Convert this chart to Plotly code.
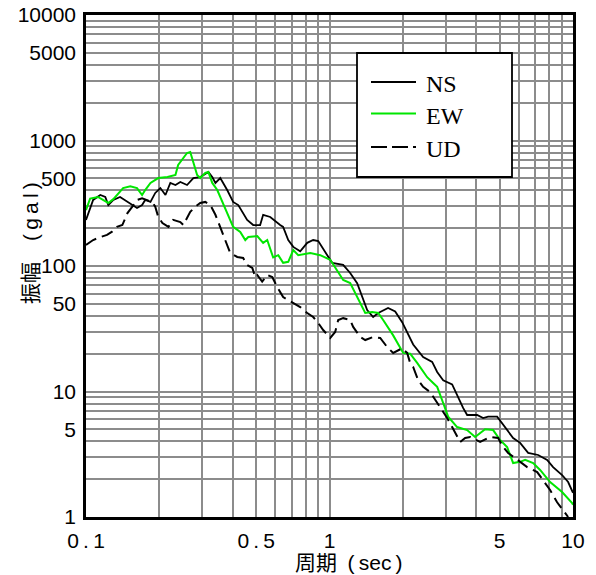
import plotly.graph_objects as go

# ---- data (period [sec], amplitude [gal]) ----
ns_period = [0.1, 0.107, 0.1145, 0.12, 0.1235, 0.1295, 0.138, 0.148, 0.155, 0.162, 0.170, 0.175, 0.184,
             0.1925, 0.202, 0.212, 0.222, 0.233, 0.244, 0.26, 0.276, 0.2945, 0.318, 0.33, 0.34, 0.356,
             0.38, 0.402, 0.422, 0.459, 0.486, 0.519, 0.534, 0.571, 0.627, 0.645, 0.677, 0.71, 0.758,
             0.81, 0.857, 0.899, 0.979, 1.026, 1.138, 1.216, 1.299, 1.375, 1.428, 1.511, 1.585, 1.74,
             1.861, 1.988, 2.084, 2.206, 2.424, 2.64, 2.768, 2.93, 3.189, 3.375, 3.538, 3.675, 4.039,
             4.274, 4.481, 4.88, 5.264, 5.677, 6.066, 6.543, 7.193, 7.83, 8.285, 9.02, 9.55, 9.92, 10.0]
ns_amp = [233, 336, 368, 355, 306, 336, 355, 324, 306, 290, 306, 336, 324,
          382, 418, 368, 459, 442, 467, 442, 502, 511, 561, 511, 459, 502,
          403, 324, 306, 233, 212, 212, 256, 246, 212, 205, 161, 142, 131,
          153, 161, 158, 122, 106, 102, 88, 73, 53.6, 44.6, 39.2, 42.2, 46.3,
          43.4, 35.7, 29.3, 23.7, 18.8, 17.2, 14.3, 12.3, 11.4, 8.9, 7.4, 6.5, 6.5,
          6.15, 6.3, 6.3, 5.21, 4.26, 3.9, 3.24, 3.12, 2.85, 2.5, 2.16, 1.9, 1.64, 1.56]

ew_period = [0.1, 0.104, 0.112, 0.118, 0.1235, 0.1295, 0.136, 0.142, 0.152, 0.162, 0.170, 0.175, 0.184,
             0.198, 0.216, 0.233, 0.239, 0.251, 0.26, 0.268, 0.276, 0.286, 0.2945, 0.309, 0.318, 0.33,
             0.346, 0.363, 0.38, 0.402, 0.43, 0.451, 0.464, 0.505, 0.534, 0.555, 0.587, 0.616, 0.645,
             0.677, 0.71, 0.744, 0.834, 0.916, 1.007, 1.075, 1.138, 1.216, 1.299, 1.402, 1.497, 1.585,
             1.661, 1.826, 2.007, 2.144, 2.291, 2.518, 2.665, 2.768, 2.93, 3.071, 3.343, 3.675, 3.963,
             4.355, 4.699, 5.019, 5.364, 5.677, 6.066, 6.36, 6.861, 7.328, 8.054, 9.02, 9.92, 10.0]
ew_amp = [279, 345, 355, 336, 318, 341, 382, 418, 432, 418, 368, 403, 459,
          502, 511, 531, 638, 725, 795, 810, 662, 531, 502, 551, 561, 459,
          403, 324, 264, 205, 187, 161, 170, 173, 153, 161, 117, 122, 106,
          108, 134, 122, 127, 122, 112, 92.9, 77.3, 73.2, 56.6, 42.2, 43, 42.2,
          37.1, 28, 20.3, 20, 16.9, 13, 11.7, 10.9, 8.1, 6.3, 5.21, 4.93, 4.34,
          5.0, 4.93, 4.11, 3.61, 2.69, 2.75, 2.85, 2.69, 2.37, 1.9, 1.58, 1.29, 1.25]

ud_period = [0.1, 0.107, 0.1145, 0.122, 0.128, 0.134, 0.141, 0.148, 0.155, 0.162, 0.170, 0.1785, 0.187,
             0.1925, 0.198, 0.206, 0.218, 0.228, 0.244, 0.251, 0.268, 0.281, 0.2945, 0.309, 0.324, 0.34,
             0.356, 0.373, 0.391, 0.418, 0.442, 0.459, 0.482, 0.4955, 0.505, 0.529, 0.555, 0.582, 0.61,
             0.645, 0.71, 0.758, 0.81, 0.857, 0.899, 0.942, 1.007, 1.055, 1.086, 1.138, 1.216, 1.251,
             1.337, 1.402, 1.511, 1.615, 1.725, 1.826, 1.988, 2.084, 2.144, 2.206, 2.313, 2.424, 2.591,
             2.716, 2.902, 3.042, 3.189, 3.44, 3.606, 3.781, 4.155, 4.567, 4.926, 5.166, 5.415, 5.896,
             6.481, 7.126, 7.54, 8.054, 8.604, 9.11, 9.55]
ud_amp = [147, 161, 170, 177, 188, 205, 212, 264, 297, 336, 346, 336, 324,
          297, 246, 220, 205, 233, 224, 212, 270, 297, 318, 324, 306, 256,
          205, 161, 127, 118, 116, 102, 96.4, 81.7, 84.8, 75, 84.8, 81.7, 68,
          56.6, 50.7, 47.1, 42.2, 39.2, 35.1, 30.9, 26.7, 29.8, 37.1, 38.4, 37.1, 32.7,
          27.2, 25.7, 27.2, 26.7, 22.6, 20.3, 22.1, 20.3, 16.9, 15.7, 12.3, 10.9, 9.9,
          8.6, 7.1, 6.15, 5.21, 3.96, 4.26, 4.34, 3.96, 4.34, 4.26, 3.61, 3.24, 2.85,
          2.5, 2.28, 1.97, 1.64, 1.31, 1.14, 1.0]

series_names = ["NS", "EW", "UD"]

x_grid_vals = [0.1, 0.2, 0.3, 0.4, 0.5, 0.6, 0.7, 0.8, 0.9, 1, 2, 3, 4, 5, 6, 7, 8, 9, 10]
x_tick_labels = ["0\u2009.\u20091", "", "", "", "0\u2009.\u20095", "", "", "", "", "1",
                 "", "", "", "5", "", "", "", "", "10"]
y_grid_vals = [1, 2, 3, 4, 5, 6, 7, 8, 9, 10, 20, 30, 40, 50, 60, 70, 80, 90,
               100, 200, 300, 400, 500, 600, 700, 800, 900,
               1000, 2000, 3000, 4000, 5000, 6000, 7000, 8000, 9000, 10000]
y_tick_labels = ["1", "", "", "", "5", "", "", "", "", "10", "", "", "", "50", "", "", "", "",
                 "100", "", "", "", "500", "", "", "", "",
                 "1000", "", "", "", "5000", "", "", "", "", "10000"]

x_title = "周期\u2002(\u2009sec\u2009)"
y_title = "振幅\u2003(\u2009g\u2009a\u2009l\u2009)"

GREEN = "#00e600"
SANS = "Liberation Sans, Arial, Noto Sans CJK JP, sans-serif"
SERIF = "Liberation Serif, Times New Roman, serif"

fig = go.Figure()
fig.add_trace(go.Scatter(x=ns_period, y=ns_amp, mode="lines", name=series_names[0],
                         line=dict(color="black", width=1.8)))
fig.add_trace(go.Scatter(x=ew_period, y=ew_amp, mode="lines", name=series_names[1],
                         line=dict(color=GREEN, width=2)))
fig.add_trace(go.Scatter(x=ud_period, y=ud_amp, mode="lines", name=series_names[2],
                         line=dict(color="black", width=2, dash="12px,6px")))

axis_common = dict(
    type="log", showgrid=True, gridcolor="#8c8c8c", gridwidth=1.6,
    showline=True, linecolor="black", linewidth=2.5, mirror=True,
    ticks="", zeroline=False, tickfont=dict(family=SANS, size=21, color="black"),
    tickmode="array", automargin=False,
)
fig.update_xaxes(range=[-1, 1], tickvals=x_grid_vals, ticktext=x_tick_labels,
                 ticklabelstandoff=3, **axis_common)
fig.update_yaxes(range=[0, 4], tickvals=y_grid_vals, ticktext=y_tick_labels,
                 ticklabelstandoff=3, **axis_common)

# custom legend box (paper coordinates)
def px_x(p):
    return (p - 86) / 487.0

def px_y(p):
    return (517 - p) / 502.0

shapes = [dict(type="rect", xref="paper", yref="paper",
               x0=px_x(357), x1=px_x(512), y0=px_y(177), y1=px_y(53),
               line=dict(color="black", width=1.8), fillcolor="white", layer="above")]
legend_rows = [(series_names[0], "black", "solid", 82), (series_names[1], GREEN, "solid", 113.5),
               (series_names[2], "black", "16px,5px", 147)]
annotations = []
for name, color, dash, py in legend_rows:
    shapes.append(dict(type="line", xref="paper", yref="paper",
                       x0=px_x(371), x1=px_x(416), y0=px_y(py), y1=px_y(py),
                       line=dict(color=color, width=2, dash=dash), layer="above"))
    annotations.append(dict(text=name, xref="paper", yref="paper", x=px_x(424), y=px_y(py + 2),
                            xanchor="left", yanchor="middle", showarrow=False,
                            font=dict(family=SERIF, size=24, color="black")))

annotations.append(dict(text=x_title, xref="paper", yref="paper", x=px_x(349), y=px_y(562),
                        xanchor="center", yanchor="middle", showarrow=False,
                        font=dict(family=SANS, size=21, color="black")))
annotations.append(dict(text=y_title, xref="paper", yref="paper", x=px_x(30), y=px_y(243),
                        xanchor="center", yanchor="middle", showarrow=False, textangle=-90,
                        font=dict(family=SANS, size=21, color="black")))

fig.update_layout(
    width=596, height=575,
    margin=dict(l=86, r=23, t=15, b=58, autoexpand=False),
    paper_bgcolor="white", plot_bgcolor="white",
    showlegend=False,
    shapes=shapes, annotations=annotations,
)

fig.write_html("out.html")
